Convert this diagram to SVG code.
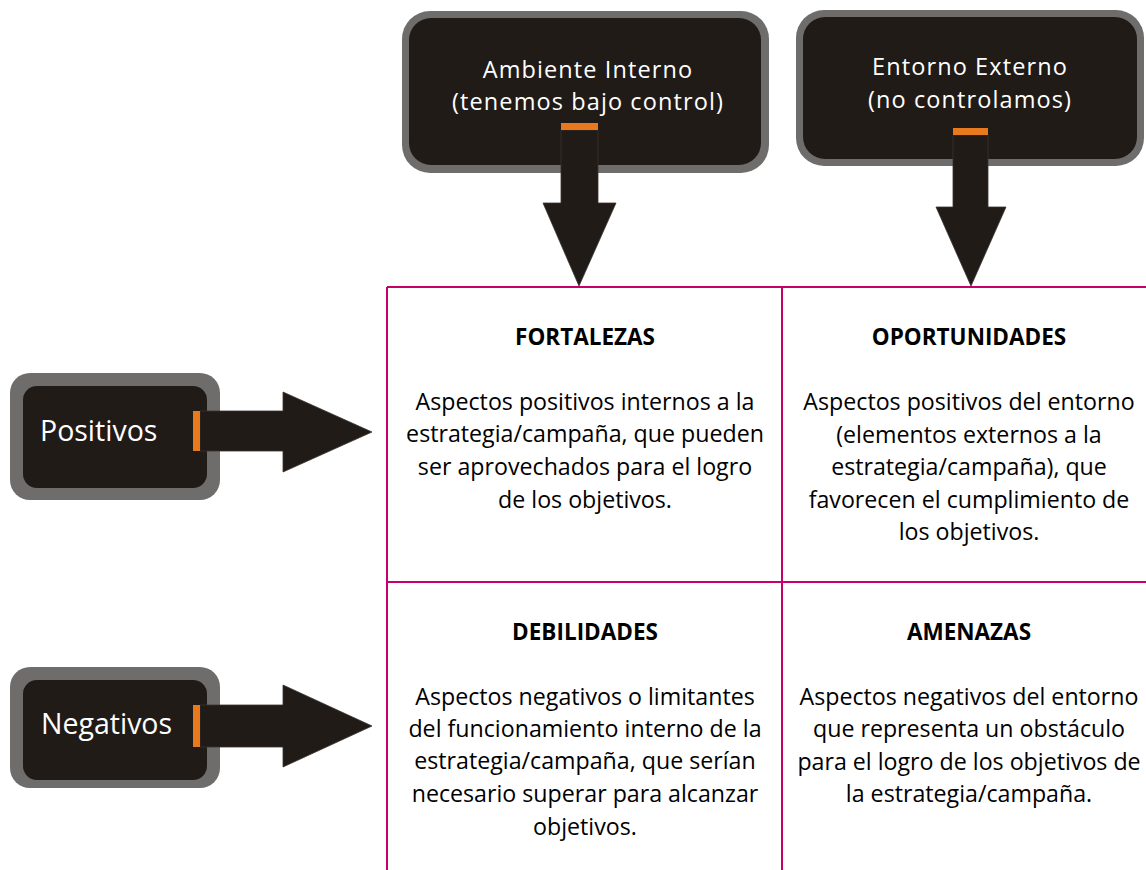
<svg xmlns="http://www.w3.org/2000/svg" width="1146" height="870" viewBox="0 0 1146 870">
<style>
.frame{fill:#6f6d6b}
.inner{fill:#211b18}
.bar{fill:#e8791d}
.arrow{fill:#211b18;stroke:#3a3431;stroke-width:0.8}
.nlabel{font-family:"Open Sans","Noto Sans",sans-serif;font-size:23.5px;letter-spacing:1.1px;fill:#ffffff;text-anchor:middle}
.side{font-family:"Open Sans","Noto Sans",sans-serif;font-size:28.5px;fill:#ffffff}
.grid{stroke:#c8006a;stroke-width:2;fill:none}
.title{font-family:"Open Sans","Noto Sans",sans-serif;font-size:22.5px;font-weight:bold;fill:#000;text-anchor:middle}
.body{font-family:"Open Sans","Noto Sans",sans-serif;font-size:23.2px;fill:#000;text-anchor:middle}
</style>
<rect width="1146" height="870" fill="#ffffff"/>
<g id="grid" class="grid">
<line x1="387" y1="287" x2="1146" y2="287"/>
<line x1="387" y1="582" x2="1146" y2="582"/>
<line x1="387" y1="287" x2="387" y2="870"/>
<line x1="782" y1="287" x2="782" y2="870"/>
</g>
<g id="ambiente">
<rect class="frame" x="402" y="11" width="367" height="162" rx="28"/>
<rect class="inner" x="409" y="18" width="352" height="147" rx="22"/>
<text class="nlabel" x="588" y="78">Ambiente Interno</text>
<text class="nlabel" x="588" y="110">(tenemos bajo control)</text>
</g>
<g id="entorno">
<rect class="frame" x="796" y="10" width="348" height="156" rx="28"/>
<rect class="inner" x="803" y="17" width="334" height="142" rx="22"/>
<text class="nlabel" x="970" y="75">Entorno Externo</text>
<text class="nlabel" x="970" y="108">(no controlamos)</text>
</g>
<g id="positivos">
<rect class="frame" x="10" y="373" width="210" height="127" rx="20"/>
<rect class="inner" x="23" y="386" width="184" height="102" rx="14"/>
<text class="side" x="40" y="441">Positivos</text>
</g>
<g id="negativos">
<rect class="frame" x="10" y="667" width="210" height="121" rx="20"/>
<rect class="inner" x="23" y="680" width="184" height="100" rx="14"/>
<text class="side" x="41" y="734">Negativos</text>
</g>
<g id="connectors">
<polygon class="arrow" points="561,130 598,130 598,203 616,203 579,286 543,203 561,203"/>
<rect class="bar" x="561" y="123" width="37" height="7"/>
<polygon class="arrow" points="953,135 988,135 988,207 1006,207 971,286 936,207 953,207"/>
<rect class="bar" x="953" y="128" width="35" height="7"/>
<polygon class="arrow" points="200,411 283,411 283,392 372,432 283,472 283,451 200,451"/>
<rect class="bar" x="193" y="411" width="7" height="40"/>
<polygon class="arrow" points="200,705 283,705 283,685 372,726 283,767 283,747 200,747"/>
<rect class="bar" x="193" y="705" width="7" height="42"/>
</g>
<g id="fortalezas">
<text class="title" x="585" y="345">FORTALEZAS</text>
<text class="body" x="585" y="410">Aspectos positivos internos a la</text>
<text class="body" x="585" y="442">estrategia/campaña, que pueden</text>
<text class="body" x="585" y="475">ser aprovechados para el logro</text>
<text class="body" x="585" y="508">de los objetivos.</text>
</g>
<g id="oportunidades">
<text class="title" x="969" y="345">OPORTUNIDADES</text>
<text class="body" x="969" y="410">Aspectos positivos del entorno</text>
<text class="body" x="969" y="443">(elementos externos a la</text>
<text class="body" x="969" y="475">estrategia/campaña), que</text>
<text class="body" x="969" y="508">favorecen el cumplimiento de</text>
<text class="body" x="969" y="540">los objetivos.</text>
</g>
<g id="debilidades">
<text class="title" x="585" y="640">DEBILIDADES</text>
<text class="body" x="585" y="705">Aspectos negativos o limitantes</text>
<text class="body" x="585" y="737">del funcionamiento interno de la</text>
<text class="body" x="585" y="769">estrategia/campaña, que serían</text>
<text class="body" x="585" y="802">necesario superar para alcanzar</text>
<text class="body" x="585" y="835">objetivos.</text>
</g>
<g id="amenazas">
<text class="title" x="969" y="640">AMENAZAS</text>
<text class="body" x="969" y="705">Aspectos negativos del entorno</text>
<text class="body" x="969" y="737">que representa un obstáculo</text>
<text class="body" x="969" y="770">para el logro de los objetivos de</text>
<text class="body" x="969" y="802">la estrategia/campaña.</text>
</g>
</svg>
